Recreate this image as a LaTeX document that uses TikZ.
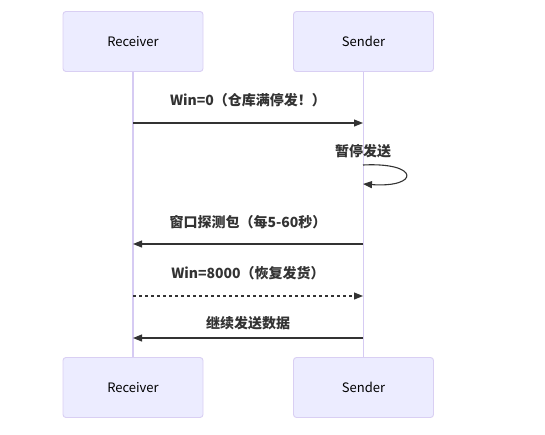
\documentclass[tikz,border=0pt]{standalone}
\usepackage{fontspec}
\setmainfont{Noto Sans CJK SC}
\usetikzlibrary{arrows.meta}
\definecolor{boxfill}{HTML}{ECECFF}
\definecolor{boxline}{HTML}{D9CFF3}
\definecolor{lifeline}{HTML}{D6CBF3}
\definecolor{ink}{HTML}{333333}
\tikzset{
  actor/.style={draw=boxline, fill=boxfill, rounded corners=3pt, line width=0.9pt,
    minimum width=140pt, minimum height=60pt, inner sep=0pt, font=\fontsize{13}{15}\selectfont, text=black},
  life/.style={draw=lifeline, line width=1.1pt},
  msg/.style={draw=ink, line width=1.1pt, -{Triangle[length=9pt,width=7pt]}},
  dmsg/.style={msg, dash pattern=on 3pt off 3pt},
  lbl/.style={font=\bfseries\fontsize{14}{16}\selectfont, text=ink, inner sep=0pt}
}
\begin{document}
\begin{tikzpicture}[x=1pt,y=-1pt]
\useasboundingbox (0,0) rectangle (545,434);
\node[actor] (rt) at (133,41.5) {Receiver};
\node[actor] (st) at (363.5,41.5) {Sender};
\node[actor] (rb) at (133,387.5) {Receiver};
\node[actor] (sb) at (363.5,387.5) {Sender};
\draw[life] (rt.south) -- (rb.north);
\draw[life] (st.south) -- (sb.north);
% message coordinates
\coordinate (r1) at (133,123); \coordinate (s1) at (363,123);
\coordinate (sl1) at (363,165); \coordinate (sl2) at (363,184);
\coordinate (r3) at (133,244); \coordinate (s3) at (363,244);
\coordinate (r4) at (133,296); \coordinate (s4) at (363,296);
\coordinate (r5) at (133,338); \coordinate (s5) at (363,338);
\node[lbl] (l1) at (248,100) {Win=0（仓库满停发！）};
\draw[msg] (r1) -- (s1);
\node[lbl] (l2) at (363,151) {暂停发送};
\draw[msg] (sl1) .. controls (420,162) and (420,188) .. (sl2);
\node[lbl] (l3) at (248,222) {窗口探测包（每5-60秒）};
\draw[msg] (s3) -- (r3);
\node[lbl] (l4) at (248,273) {Win=8000（恢复发货）};
\draw[dmsg] (r4) -- (s4);
\node[lbl] (l5) at (248,323) {继续发送数据};
\draw[msg] (s5) -- (r5);
\end{tikzpicture}
\end{document}
